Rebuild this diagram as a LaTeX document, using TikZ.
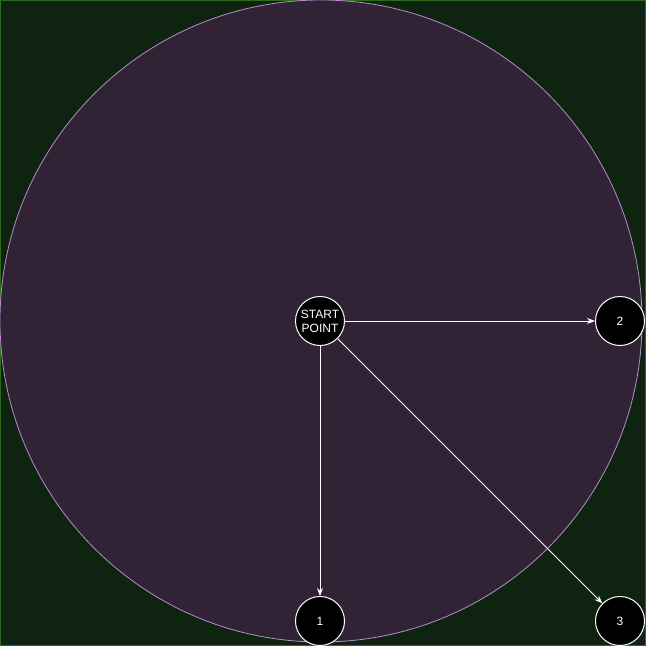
\documentclass[tikz,border=0pt]{standalone}
\usepackage{fontspec}
\setmainfont{Liberation Sans}
\usetikzlibrary{arrows.meta}
\definecolor{bgGreen}{HTML}{0F2410}
\definecolor{edgeGreen}{HTML}{2D6A1A}
\definecolor{zonePurple}{HTML}{302336}
\definecolor{zoneLine}{HTML}{B48CC8}
\begin{document}
\begin{tikzpicture}[x=1pt,y=-1pt,
        pt/.style={circle, draw=white, fill=black, line width=1pt, minimum size=49pt, inner sep=0pt, text=white, font=\fontsize{12}{14}\selectfont, align=center},
        link/.style={draw=white, line width=0.8pt, -{Stealth[length=8pt,width=6pt]}}]
        \fill[bgGreen] (0,0) rectangle (646,646);
        \draw[edgeGreen, line width=1pt] (0.5,0.5) rectangle (645.5,645.5);
        \useasboundingbox (0,0) rectangle (646,646);
        
        % range of reach
        \draw[fill=zonePurple, draw=zoneLine, line width=0.8pt] (321,321) circle (321);
        
        \node[pt] (start) at (320,321) {START\\POINT};
        \node[pt] (p1) at (320,621) {1};
        \node[pt] (p2) at (620,321) {2};
        \node[pt] (p3) at (620,621) {3};
        
        \draw[link] (start) -- (p1);
        \draw[link] (start) -- (p2);
        \draw[link] (start) -- (p3);
    \end{tikzpicture}
\end{document}
